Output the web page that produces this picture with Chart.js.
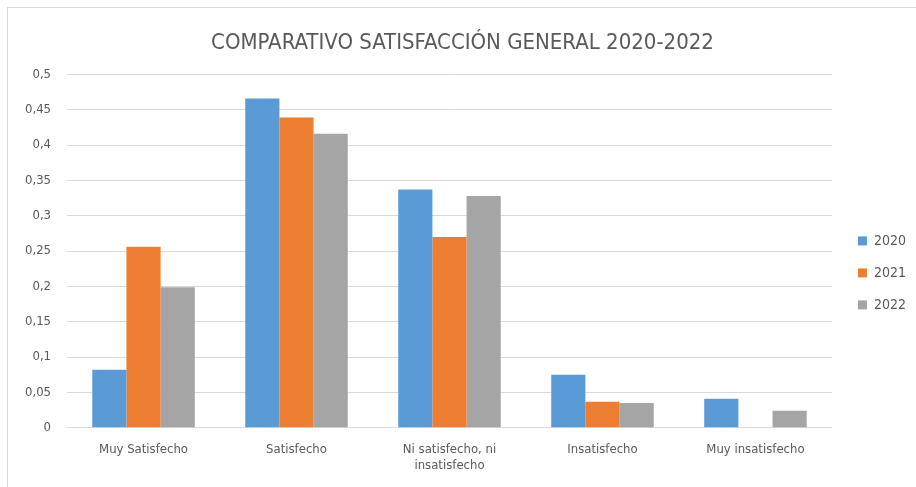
<!DOCTYPE html>
<html>
<head>
<meta charset="utf-8">
<script src="https://cdn.jsdelivr.net/npm/chart.js@4/dist/chart.umd.min.js"></script>
<style>
  html, body { margin: 0; padding: 0; background: #fff; }
  #frame {
    position: absolute; left: 7px; top: 7px; width: 909px; height: 480px;
    border-left: 1px solid #d9d9d9; border-top: 1px solid #d9d9d9;
    box-sizing: border-box;
  }
  #wrap { position: absolute; left: 0; top: 0; width: 908px; height: 479px; }
</style>
</head>
<body>
<div id="frame"><div id="wrap"><canvas id="chart"></canvas></div></div>
<script>
// Categories and yearly satisfaction shares
const categories = ['Muy Satisfecho', 'Satisfecho', ['Ni satisfecho, ni', 'insatisfecho'], 'Insatisfecho', 'Muy insatisfecho'];
const values2020 = [0.082, 0.466, 0.337, 0.075, 0.041];
const values2021 = [0.256, 0.439, 0.270, 0.037, 0];
const values2022 = [0.199, 0.416, 0.328, 0.035, 0.024];
const yTicks = [0, 0.05, 0.1, 0.15, 0.2, 0.25, 0.3, 0.35, 0.4, 0.45, 0.5];

const fontFamily = '"DejaVu Sans Condensed", "Open Sans", sans-serif';
const textColor = '#595959';

const ctx = document.getElementById('chart');

new Chart(ctx, {
    type: 'bar',
    data: {
        labels: categories,
        datasets: [
            { label: '2020', data: values2020, backgroundColor: '#5b9bd5' },
            { label: '2021', data: values2021, backgroundColor: '#ed7d31' },
            { label: '2022', data: values2022, backgroundColor: '#a5a5a5' }
        ]
    },
    options: {
        responsive: true,
        maintainAspectRatio: false,
        animation: false,
        datasets: {
            bar: { categoryPercentage: 0.67, barPercentage: 1.0 }
        },
        layout: { padding: { left: 1, right: 0, top: 22, bottom: 8 } },
        plugins: {
            title: {
                display: true,
                text: 'COMPARATIVO SATISFACCIÓN GENERAL 2020-2022',
                color: textColor,
                font: { family: fontFamily, size: 22, weight: 'normal' },
                padding: { top: 0, bottom: 18 }
            },
            legend: {
                position: 'right',
                title: { display: true, text: ' ', font: { size: 14 }, padding: { top: 20, bottom: 0 } },
                labels: {
                    color: textColor,
                    font: { family: fontFamily, size: 14 },
                    boxWidth: 9,
                    boxHeight: 9,
                    padding: 18
                }
            },
            tooltip: { enabled: false }
        },
        scales: {
            x: {
                grid: { display: false },
                border: { color: '#d9d9d9' },
                ticks: {
                    color: textColor,
                    font: { family: fontFamily, size: 13 },
                    maxRotation: 0,
                    padding: 6
                }
            },
            y: {
                min: 0,
                max: 0.5,
                afterBuildTicks: (axis) => { axis.ticks = yTicks.map(v => ({ value: v })); },
                grid: { color: '#d9d9d9', drawTicks: false },
                border: { display: false },
                ticks: {
                    color: textColor,
                    font: { family: fontFamily, size: 13 },
                    padding: 16,
                    callback: (v) => String(v).replace('.', ',')
                }
            },
            // empty spacer between plot and legend
            gap: {
                position: 'right',
                grid: { display: false },
                border: { display: false },
                ticks: { display: false },
                afterFit: (scale) => { scale.width = 8; }
            }
        }
    }
});
</script>
</body>
</html>
